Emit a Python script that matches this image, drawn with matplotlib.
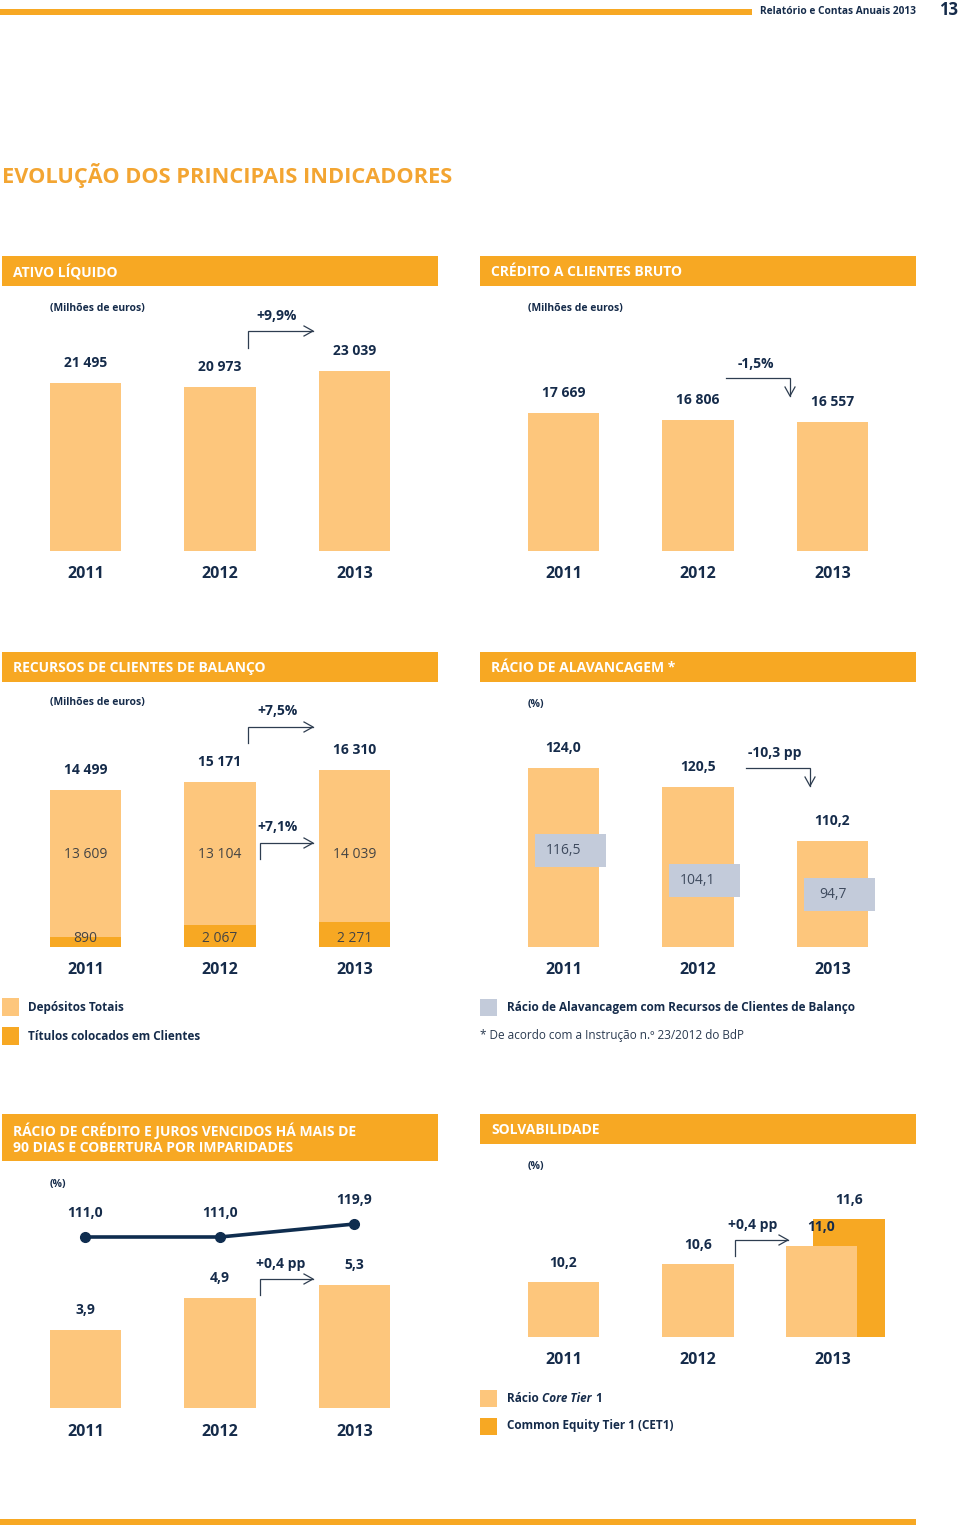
import matplotlib
matplotlib.use('Agg')
import matplotlib.pyplot as plt
from matplotlib.patches import Rectangle

W, H = 960, 1527
DPI = 100

ORANGE = '#F7A823'
LIGHT = '#FDC67C'
NAVY = '#152B4A'
GREY = '#C3CBDA'
ARROW = '#2E3D50'
INNER = '#444444'

plt.rcParams['font.family'] = ['Open Sans', 'DejaVu Sans']

# ---- data ----
years = ['2011', '2012', '2013']

ativo = [21495, 20973, 23039]
credito = [17669, 16806, 16557]
depositos = [13609, 13104, 14039]
titulos = [890, 2067, 2271]
alavancagem = [124.0, 120.5, 110.2]
alavancagem_rcb = [116.5, 104.1, 94.7]
vencido = [3.9, 4.9, 5.3]
cobertura = [111.0, 111.0, 119.9]
core_tier1 = [10.2, 10.6, 11.0]
cet1_2013 = 11.6


def fmt_int(v):
    return '{:,}'.format(v).replace(',', ' ')


def fmt_dec(v):
    return '{:.1f}'.format(v).replace('.', ',')


fig = plt.figure(figsize=(W / DPI, H / DPI), dpi=DPI)
page = fig.add_axes([0, 0, 1, 1])
page.set_xlim(0, W)
page.set_ylim(H, 0)
page.axis('off')


def panel_axes(x0, x1, y0, y1, v0, ppu):
    # pixel box -> axes; ylim from baseline value and pixels per unit
    ax = fig.add_axes([x0 / W, 1 - y1 / H, (x1 - x0) / W, (y1 - y0) / H])
    ax.set_xlim(-0.5, 2.5)
    ax.set_ylim(v0, v0 + (y1 - y0) / ppu)
    ax.axis('off')
    ax.patch.set_alpha(0)
    return ax


def header(x0, y0, x1, y1, text):
    page.add_patch(Rectangle((x0, y0), x1 - x0, y1 - y0, color=ORANGE, lw=0))
    page.text(x0 + 11, (y0 + y1) / 2 + 1, text, color='white', fontsize=10,
              fontweight='bold', va='center', ha='left', linespacing=1.15)


def top_labels(ax, xs, vals, labels, dy=20):
    for x, v, s in zip(xs, vals, labels):
        ax.annotate(s, (x, v), xytext=(0, dy * 0.72), textcoords='offset points',
                    ha='center', va='center', fontsize=10, fontweight='bold',
                    color=NAVY, annotation_clip=False)


def year_labels(ax):
    y0 = ax.get_ylim()[0]
    for i, yr in enumerate(years):
        ax.annotate(yr, (i, y0), xytext=(0, -23.5 * 0.72), textcoords='offset points',
                    ha='center', va='center', fontsize=11.5, fontweight='bold',
                    color=NAVY, annotation_clip=False)


def arrow_right(x0, y0, x1, y1):
    # vertical stem up from (x0, y0) to y1, then right to x1
    page.plot([x0, x0, x1], [y0, y1, y1], color=ARROW, lw=0.9, solid_joinstyle='miter')
    page.plot([x1 - 9, x1, x1 - 9], [y1 - 5, y1, y1 + 5], color=ARROW, lw=0.9)


def arrow_down(x0, y0, x1, y1):
    # horizontal from (x0, y0) to x1, then down to y1
    page.plot([x0, x1, x1], [y0, y0, y1], color=ARROW, lw=0.9, solid_joinstyle='miter')
    page.plot([x1 - 5, x1, x1 + 5], [y1 - 9, y1, y1 - 9], color=ARROW, lw=0.9)


def note(x, y, text, size=7.5, weight='bold', style='normal', color=NAVY):
    return page.text(x, y, text, fontsize=size, fontweight=weight, fontstyle=style,
                     color=color, va='center', ha='left')


xs = [0, 1, 2]
BW = 0.53

# ---- page decoration ----
page.add_patch(Rectangle((0, 9), 752, 6, color=ORANGE, lw=0))
page.add_patch(Rectangle((0, 1519), 916, 6, color=ORANGE, lw=0))
page.text(916, 12, 'Relatório e Contas Anuais 2013', fontsize=7.3, fontweight='bold',
          color=NAVY, ha='right', va='center')
page.text(958, 10, '13', fontsize=12, fontweight='bold', color=NAVY, ha='right', va='center')
page.text(2, 175, 'EVOLUÇÃO DOS PRINCIPAIS INDICADORES', fontsize=15.7,
          fontweight='bold', color='#F3A532', ha='left', va='center')

# ---- ATIVO LÍQUIDO ----
header(2, 256, 438, 286, 'ATIVO LÍQUIDO')
note(50, 308, '(Milhões de euros)')
ax1 = panel_axes(18.25, 421.75, 300, 551, 0, 0.00783)
ax1.bar(xs, ativo, width=BW, color=LIGHT)
top_labels(ax1, xs, ativo, [fmt_int(v) for v in ativo])
year_labels(ax1)
arrow_right(248, 348, 313, 331)
page.text(277, 316, '+9,9%', fontsize=10, fontweight='bold', color=NAVY, ha='center', va='center')

# ---- CRÉDITO A CLIENTES BRUTO ----
header(480, 256, 916, 286, 'CRÉDITO A CLIENTES BRUTO')
note(528, 308, '(Milhões de euros)')
ax2 = panel_axes(496.25, 899.75, 300, 551, 0, 0.00781)
ax2.bar(xs, credito, width=BW, color=LIGHT)
top_labels(ax2, xs, credito, [fmt_int(v) for v in credito])
year_labels(ax2)
arrow_down(726, 378, 790, 396)
page.text(756, 364, '-1,5%', fontsize=10, fontweight='bold', color=NAVY, ha='center', va='center')

# ---- RECURSOS DE CLIENTES DE BALANÇO ----
header(2, 652, 438, 682, 'RECURSOS DE CLIENTES DE BALANÇO')
note(50, 703, '(Milhões de euros)')
ax3 = panel_axes(18.25, 421.75, 700, 947, 0, 0.01085)
ax3.bar(xs, titulos, width=BW, color=ORANGE)
ax3.bar(xs, depositos, width=BW, bottom=titulos, color=LIGHT)
totais = [t + d for t, d in zip(titulos, depositos)]
top_labels(ax3, xs, totais, [fmt_int(v) for v in totais])
year_labels(ax3)
for x, d, t in zip(xs, depositos, titulos):
    ax3.annotate(fmt_int(d), (x, 0), xytext=(0, 93 * 0.72), textcoords='offset points',
                 ha='center', va='center', fontsize=10, color=INNER)
    ax3.annotate(fmt_int(t), (x, 0), xytext=(0, 8 * 0.72), textcoords='offset points',
                 ha='center', va='center', fontsize=10, color=INNER)
arrow_right(248, 743, 313, 727)
page.text(277, 711, '+7,5%', fontsize=10, fontweight='bold', color=NAVY, ha='center', va='center')
arrow_right(260, 859, 313, 843)
page.text(277, 827, '+7,1%', fontsize=10, fontweight='bold', color=NAVY, ha='center', va='center')
page.add_patch(Rectangle((2, 998), 17, 18, color=LIGHT, lw=0))
page.add_patch(Rectangle((2, 1027), 17, 18, color=ORANGE, lw=0))
note(28, 1007, 'Depósitos Totais', size=8.5)
note(28, 1036, 'Títulos colocados em Clientes', size=8.5)

# ---- RÁCIO DE ALAVANCAGEM ----
header(480, 652, 916, 682, 'RÁCIO DE ALAVANCAGEM *')
note(528, 704, '(%)')
ax4 = panel_axes(496.25, 899.75, 700, 947, 90.2, 5.29)
ax4.bar(xs, alavancagem, width=BW, color=LIGHT)
top_labels(ax4, xs, alavancagem, [fmt_dec(v) for v in alavancagem])
year_labels(ax4)
# grey label boxes: centre height above baseline in pixels
box_px = [97, 67, 53]
for x, v, off in zip(xs, alavancagem_rcb, box_px):
    yc = 90.2 + off / 5.29
    hh = 16.5 / 5.29
    ax4.add_patch(Rectangle((x - BW / 2 + 0.05, yc - hh), BW, 2 * hh, color=GREY, lw=0))
    ax4.text(x, yc, fmt_dec(v), ha='center', va='center', fontsize=10, color='#3E4A5E')
arrow_down(746, 768, 810, 786)
page.text(775, 753, '-10,3 pp', fontsize=10, fontweight='bold', color=NAVY, ha='center', va='center')
page.add_patch(Rectangle((480, 999), 17, 17, color=GREY, lw=0))
note(507, 1008, 'Rácio de Alavancagem com Recursos de Clientes de Balanço', size=8.5)
note(480, 1036, '* De acordo com a Instrução n.º 23/2012 do BdP', size=8.5, weight='normal',
     color='#2A3A50')

# ---- RÁCIO DE CRÉDITO VENCIDO ----
header(2, 1114, 438, 1161, 'RÁCIO DE CRÉDITO E JUROS VENCIDOS HÁ MAIS DE\n90 DIAS E COBERTURA POR IMPARIDADES')
note(50, 1184, '(%)')
ax5 = panel_axes(18.25, 421.75, 1180, 1408, 1.5, 32.3)
ax5.bar(xs, vencido, width=BW, color=LIGHT)
top_labels(ax5, xs, vencido, [fmt_dec(v) for v in vencido])
year_labels(ax5)
ax5b = ax5.twinx()
ax5b.set_ylim(111 - (1408 - 1237) / 1.46, 111 + (1237 - 1180) / 1.46)
ax5b.axis('off')
ax5b.plot(xs, cobertura, color='#0F2D4F', lw=2.6, marker='o', markersize=7)
for x, v in zip(xs, cobertura):
    ax5b.annotate(fmt_dec(v), (x, v), xytext=(0, 24 * 0.72), textcoords='offset points',
                  ha='center', va='center', fontsize=10, fontweight='bold', color=NAVY,
                  annotation_clip=False)
arrow_right(260, 1295, 313, 1279)
page.text(281, 1264, '+0,4 pp', fontsize=10, fontweight='bold', color=NAVY, ha='center', va='center')

# ---- SOLVABILIDADE ----
header(480, 1114, 916, 1144, 'SOLVABILIDADE')
note(528, 1166, '(%)')
ax6 = panel_axes(496.25, 899.75, 1180, 1337, 8.98, 45)
ax6.bar([2 + 0.123], [cet1_2013], width=BW, color=ORANGE)
ax6.bar([0, 1, 2 - 0.082], core_tier1, width=BW, color=LIGHT)
top_labels(ax6, [0, 1, 2 - 0.082], core_tier1, [fmt_dec(v) for v in core_tier1], dy=19)
top_labels(ax6, [2 + 0.123], [cet1_2013], [fmt_dec(cet1_2013)], dy=19)
year_labels(ax6)
arrow_right(735, 1256, 788, 1240)
page.text(753, 1225, '+0,4 pp', fontsize=10, fontweight='bold', color=NAVY, ha='center', va='center')
page.add_patch(Rectangle((480, 1390), 17, 17, color=LIGHT, lw=0))
page.add_patch(Rectangle((480, 1418), 17, 17, color=ORANGE, lw=0))

# legend text with italic part, laid out piece by piece
renderer = fig.canvas.get_renderer()
x = 507
for part, style, gap in [('Rácio', 'normal', 3), ('Core Tier', 'italic', 3.5), ('1', 'normal', 0)]:
    t = note(x, 1398, part, size=8.5, style=style)
    x += t.get_window_extent(renderer).width + gap
note(507, 1426, 'Common Equity Tier 1 (CET1)', size=8.5)

fig.savefig('out.png', dpi=DPI)
